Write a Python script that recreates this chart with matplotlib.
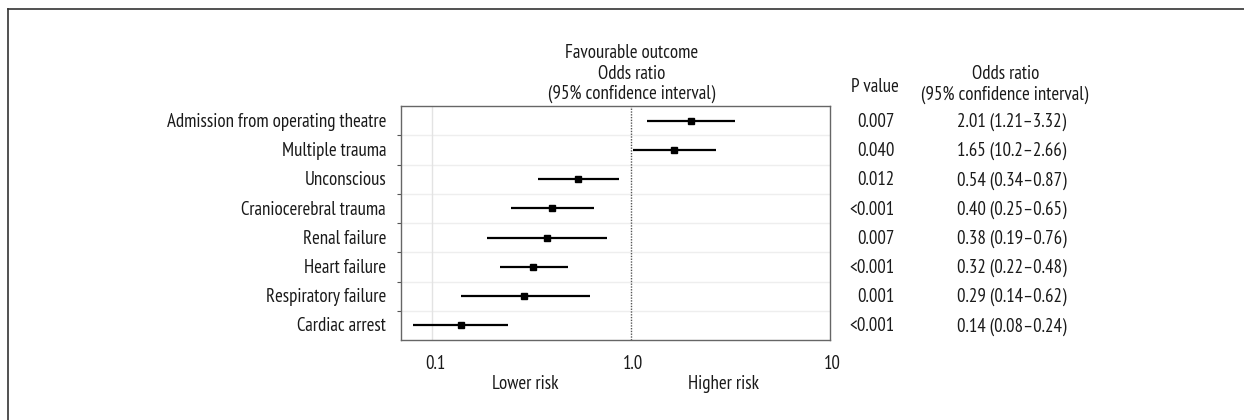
import numpy as np
import matplotlib.pyplot as plt
from matplotlib.lines import Line2D

plt.rcParams['font.family'] = ['PT Sans Narrow', 'Roboto Condensed', 'Fira Sans Condensed',
                               'Liberation Sans', 'DejaVu Sans']

labels = ["Admission from operating theatre", "Multiple trauma", "Unconscious",
          "Craniocerebral trauma", "Renal failure", "Heart failure",
          "Respiratory failure", "Cardiac arrest"]
odds = [2.01, 1.65, 0.54, 0.40, 0.38, 0.32, 0.29, 0.14]
ci_low = [1.21, 1.02, 0.34, 0.25, 0.19, 0.22, 0.14, 0.08]
ci_high = [3.32, 2.66, 0.87, 0.65, 0.76, 0.48, 0.62, 0.24]
p_text = ["0.007", "0.040", "0.012", "<0.001", "0.007", "<0.001", "0.001", "<0.001"]
or_text = ["2.01 (1.21\u20133.32)", "1.65 (10.2\u20132.66)", "0.54 (0.34\u20130.87)",
           "0.40 (0.25\u20130.65)", "0.38 (0.19\u20130.76)", "0.32 (0.22\u20130.48)",
           "0.29 (0.14\u20130.62)", "0.14 (0.08\u20130.24)"]

W, H = 1244, 420
fig = plt.figure(figsize=(W / 100, H / 100), dpi=100)

def px(x, y):
    return x / W, 1 - y / H

# outer frame (left and top only)
fig.add_artist(Line2D([8 / W, 8 / W], [0, 1 - 8.5 / H], color="#333333", lw=1.2))
fig.add_artist(Line2D([8 / W, 1], [1 - 8.5 / H, 1 - 8.5 / H], color="#333333", lw=1.2))

ax = fig.add_axes([401 / W, 80 / H, 429 / W, 234 / H])
n = len(labels)
ypos = np.arange(n, 0, -1)

ax.set_xscale("log")
ax.set_xlim(10 ** (-1 - 31 / 199), 10)
ax.set_ylim(0.5, n + 0.5)

for b in np.arange(1.5, n, 1.0):
    ax.axhline(b, color="#eeeeee", lw=1, zorder=0)
ax.axvline(0.1, color="#e3e3e3", lw=1, zorder=0)
ax.axvline(1.0, color="#555555", lw=1, ls=(0, (1, 1)), zorder=1)

ax.hlines(ypos, ci_low, ci_high, color="black", lw=1.6, zorder=2)
ax.plot(odds, ypos, "s", color="black", ms=4.6, zorder=3)

ax.set_yticks(np.arange(1.5, n, 1.0))
ax.set_yticklabels([])
ax.tick_params(axis="y", length=3, width=0.8, color="#555555")
ax.set_xticks([])
ax.minorticks_off()
for s in ax.spines.values():
    s.set_color("#666666")
    s.set_linewidth(1)

fs = 13.6
tc = "#1a1a1a"
for i, lab in enumerate(labels):
    yy = 122 + i * 29.2
    fig.text(*px(386, yy), lab, ha="right", va="center", fontsize=fs, color=tc)
    fig.text(*px(895, yy), p_text[i], ha="right", va="center", fontsize=fs, color=tc)
    fig.text(*px(957, yy), or_text[i], ha="left", va="center", fontsize=fs, color=tc)

fig.text(*px(632, 53), "Favourable outcome", ha="center", va="center", fontsize=fs, color=tc)
fig.text(*px(632, 74), "Odds ratio", ha="center", va="center", fontsize=fs, color=tc)
fig.text(*px(632, 94), "(95% confidence interval)", ha="center", va="center", fontsize=fs, color=tc)
fig.text(*px(875, 87), "P value", ha="center", va="center", fontsize=fs, color=tc)
fig.text(*px(1006, 74), "Odds ratio", ha="center", va="center", fontsize=fs, color=tc)
fig.text(*px(1005, 95), "(95% confidence interval)", ha="center", va="center", fontsize=fs, color=tc)

for xv, t in [(435, "0.1"), (633, "1.0"), (832, "10")]:
    fig.text(*px(xv, 364), t, ha="center", va="center", fontsize=fs, color=tc)
fig.text(*px(525, 384), "Lower risk", ha="center", va="center", fontsize=fs, color=tc)
fig.text(*px(723, 384), "Higher risk", ha="center", va="center", fontsize=fs, color=tc)

fig.savefig("out.png", dpi=100)
